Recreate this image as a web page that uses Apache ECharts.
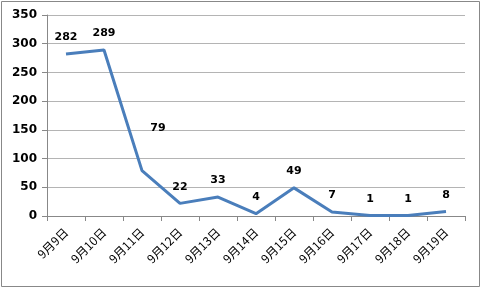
<!DOCTYPE html>
<html><head><meta charset="utf-8">
<script src="https://cdn.jsdelivr.net/npm/echarts@6/dist/echarts.min.js"></script>
<style>html,body{margin:0;padding:0;background:#fff}#c{width:482px;height:290px}</style>
</head><body><div id="c"></div>
<script>
const categories = ['9月9日','9月10日','9月11日','9月12日','9月13日','9月14日','9月15日','9月16日','9月17日','9月18日','9月19日'];
const values = [282, 289, 79, 22, 33, 4, 49, 7, 1, 1, 8];
const yTicks = [0, 50, 100, 150, 200, 250, 300, 350];

const chart = echarts.init(document.getElementById('c'), null, {renderer: 'canvas'});
const data = values.map((v, i) => i === 2 ? {value: v, label: {offset: [16, -26]}} : v);
chart.setOption({
  animation: false,
  backgroundColor: '#fff',
  graphic: [{type: 'rect', shape: {x: 1.5, y: 1.5, width: 478, height: 285}, style: {fill: 'none', stroke: '#888', lineWidth: 1}}],
  grid: {left: 47, right: 17, top: 15, bottom: 74},
  xAxis: {
    type: 'category', data: categories, boundaryGap: true,
    axisLine: {lineStyle: {color: '#888', width: 1}},
    axisTick: {show: true, length: 5, lineStyle: {color: '#888'}},
    axisLabel: {rotate: 45, color: '#000', fontSize: 12, fontFamily: 'Noto Sans CJK SC', margin: 14, interval: 0}
  },
  yAxis: {
    type: 'value', min: 0, max: 350, interval: 50,
    axisLine: {show: true, lineStyle: {color: '#888', width: 1}},
    axisTick: {show: true, length: 5, lineStyle: {color: '#888'}},
    axisLabel: {color: '#000', fontSize: 12, fontWeight: 'bold', fontFamily: 'DejaVu Sans', margin: 10,
      formatter: v => yTicks.includes(v) ? String(v) : ''},
    splitLine: {lineStyle: {color: '#b4b4b4', width: 1}}
  },
  series: [{
    type: 'line', data: data, showSymbol: true, symbol: 'circle', symbolSize: 0.1,
    itemStyle: {color: '#4a7ebb'},
    lineStyle: {color: '#4a7ebb', width: 3},
    label: {show: true, position: 'top', distance: 11, color: '#000', fontSize: 11, fontWeight: 'bold', fontFamily: 'DejaVu Sans'}
  }]
});
</script></body></html>
